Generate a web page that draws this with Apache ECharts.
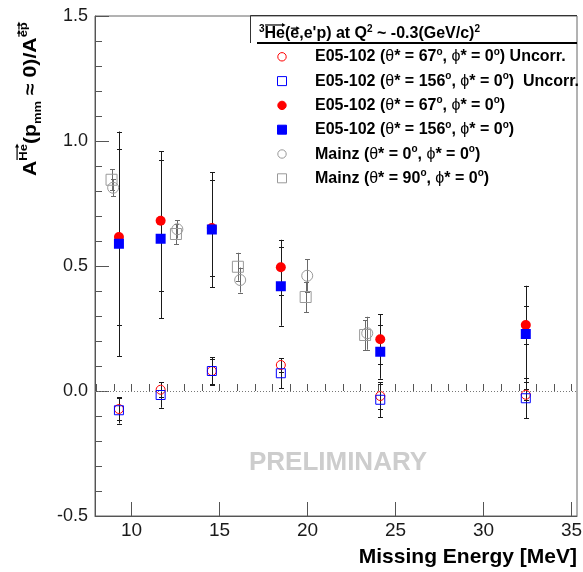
<!DOCTYPE html>
<html><head><meta charset="utf-8">
<script src="https://cdn.jsdelivr.net/npm/echarts@6/dist/echarts.min.js"></script>
<style>html,body{margin:0;padding:0;background:#fff}#c{width:583px;height:572px}</style>
</head><body><div id="c"></div>
<script>
// ---- data ----
const e05X            = [9.28, 11.65, 14.56, 18.48, 24.13, 32.40];
const e05Corr67       = [0.616, 0.681, 0.652, 0.495, 0.207, 0.264];
const e05Corr67Err    = [0.353, 0.279, 0.190, 0.110, 0.100, 0.075];
const e05Corr156      = [0.589, 0.609, 0.646, 0.419, 0.157, 0.228];
const e05Corr156Err   = [0.449, 0.317, 0.230, 0.158, 0.108, 0.193];
const e05Uncorr67     = [-0.072, 0.005, 0.080, 0.104, -0.020, -0.015];
const e05Uncorr67Err  = [0.045, 0.030, 0.050, 0.027, 0.050, 0.022];
const e05Uncorr156    = [-0.077, -0.016, 0.080, 0.071, -0.035, -0.029];
const e05Uncorr156Err = [0.053, 0.051, 0.055, 0.060, 0.070, 0.080];
const mainz0X   = [8.95, 12.60, 16.17, 19.98, 23.39];
const mainz0    = [0.813, 0.647, 0.444, 0.461, 0.231];
const mainz0Err = [0.034, 0.037, 0.050, 0.066, 0.066];
const mainz90X   = [8.86, 12.52, 16.04, 19.89, 23.27];
const mainz90    = [0.845, 0.628, 0.497, 0.376, 0.224];
const mainz90Err = [0.042, 0.040, 0.056, 0.061, 0.060];
const xMajorTicks = [10, 15, 20, 25, 30, 35];
const xMinorTicks = [8, 9, 10, 11, 12, 13, 14, 15, 16, 17, 18, 19, 20, 21, 22, 23, 24, 25, 26, 27, 28, 29, 30, 31, 32, 33, 34, 35];
const yTickLabels = ['-0.5', '0.0', '0.5', '1.0', '1.5'];

// ---- helpers ----
const FAM = "'Liberation Sans', Arial, Helvetica, sans-serif";
const mctx = document.createElement('canvas').getContext('2d');
function tw(t, font) { mctx.font = font; return mctx.measureText(t).width; }
function run(pieces, x0, base, color) {
  const els = []; let x = x0;
  pieces.forEach(p => {
    const font = (p.bold === false ? '' : 'bold ') + p.size + 'px ' + FAM;
    const w = tw(p.t, font);
    const b = base + (p.dy || 0);
    els.push({type: 'text', x: x, y: b - 0.35 * p.size,
      style: {text: p.t, font: font, fill: p.color || color || '#000',
        align: 'left', verticalAlign: 'middle', textAlign: 'left', textVerticalAlign: 'middle'}});
    if (p.arrow) {
      const ay = b - p.size * (p.arrowH || 0.72) - 3;
      const x1 = x + 0.5, x2 = x + w;
      els.push({type: 'line', shape: {x1: x1, y1: ay, x2: x2 - 1, y2: ay}, style: {stroke: '#000', lineWidth: 1.2}});
      els.push({type: 'polygon', shape: {points: [[x2 + 0.5, ay], [x2 - 3, ay - 2], [x2 - 3, ay + 2]]}, style: {fill: '#000'}});
    }
    x += w;
  });
  return els;
}

function errData(xs, ys, es) { return xs.map((x, i) => [x, ys[i], es[i]]); }
function ptData(xs, ys) { return xs.map((x, i) => [x, ys[i]]); }
function errSeries(data, color, width) {
  return {
    type: 'custom', coordinateSystem: 'cartesian2d', xAxisIndex: 0, yAxisIndex: 0, silent: true, z: 2,
    data: data,
    renderItem: function (params, api) {
      const x = api.value(0), y = api.value(1), e = api.value(2);
      const t = api.coord([x, y + e]), b = api.coord([x, y - e]);
      const cx = Math.round(t[0]) + 0.5;
      const st = {stroke: color, lineWidth: width};
      return {type: 'group', children: [
        {type: 'line', shape: {x1: cx, y1: t[1], x2: cx, y2: b[1]}, style: st},
        {type: 'line', shape: {x1: cx - 2.5, y1: Math.round(t[1]) + 0.5, x2: cx + 2.5, y2: Math.round(t[1]) + 0.5}, style: st},
        {type: 'line', shape: {x1: cx - 2.5, y1: Math.round(b[1]) + 0.5, x2: cx + 2.5, y2: Math.round(b[1]) + 0.5}, style: st}
      ]};
    }
  };
}
function ptSeries(name, data, symbol, size, fill, stroke, bw, z) {
  return {name: name, type: 'scatter', data: data, symbol: symbol, symbolSize: size, z: z,
    itemStyle: {color: fill, borderColor: stroke, borderWidth: bw, opacity: 1}, emphasis: {disabled: true}};
}

const RED = '#ff0000', BLUE = '#0000ff', GRAY = '#9a9a9a', EBAR = '#1a1a1a', MBAR = '#6a6a6a';

// ---- graphics: titles & legend ----
const gEls = [];
// y-axis title (rotated)
gEls.push({type: 'group', x: 37, y: 176, rotation: Math.PI / 2, scaleX: 1.18, scaleY: 1, children: run([
  {t: 'A', size: 18},
  {t: 'He', size: 11, dy: -9, arrow: true},
  {t: '(p', size: 18},
  {t: 'mm', size: 11, dy: 5},
  {t: ' \u2248 0)/A', size: 18},
  {t: 'e', size: 11, dy: -9, arrow: true, arrowH: 0.55},
  {t: 'p', size: 11, dy: -9, arrow: true, arrowH: 0.55}
], 0, 0)});
// x-axis title
gEls.push({type: 'text', x: 577, y: 565 - 0.35 * 21, style: {text: 'Missing Energy [MeV]', font: 'bold 21px ' + FAM, fill: '#000',
  align: 'right', verticalAlign: 'middle', textAlign: 'right', textVerticalAlign: 'middle'}});
// PRELIMINARY
gEls.push({type: 'text', x: 338, y: 463, style: {text: 'PRELIMINARY', font: 'bold 26px ' + FAM, fill: '#cdcdcd',
  align: 'center', verticalAlign: 'middle', textAlign: 'center', textVerticalAlign: 'middle'}});
// legend box lines
gEls.push({type: 'line', shape: {x1: 250.5, y1: 15.5, x2: 250.5, y2: 43}, style: {stroke: '#333', lineWidth: 1}});
gEls.push({type: 'line', shape: {x1: 250.5, y1: 15.5, x2: 577, y2: 15.5}, style: {stroke: '#333', lineWidth: 1}});
gEls.push({type: 'line', shape: {x1: 257, y1: 43, x2: 577, y2: 43}, style: {stroke: '#000', lineWidth: 2}});
// legend header
gEls.push({type: 'group', children: run([
  {t: '3', size: 10, dy: -7},
  {t: 'He', size: 16, arrow: true},
  {t: '(', size: 16},
  {t: 'e', size: 16, arrow: true, arrowH: 0.52},
  {t: ",e'p) at Q", size: 16},
  {t: '2', size: 10, dy: -7},
  {t: ' ~ -0.3(GeV/c)', size: 16},
  {t: '2', size: 10, dy: -7}
], 259, 39.5)});
// legend entries
const legendRows = [
  {pre: 'E05-102 (', th: '67', post: ') Uncorr.', sym: 'circle', fill: 'none', stroke: RED},
  {pre: 'E05-102 (', th: '156', post: ')  Uncorr.', sym: 'rect', fill: 'none', stroke: BLUE},
  {pre: 'E05-102 (', th: '67', post: ')', sym: 'circle', fill: RED, stroke: RED},
  {pre: 'E05-102 (', th: '156', post: ')', sym: 'rect', fill: BLUE, stroke: BLUE},
  {pre: 'Mainz (', th: '0', post: ')', sym: 'circle', fill: 'none', stroke: GRAY},
  {pre: 'Mainz (', th: '90', post: ')', sym: 'rect', fill: 'none', stroke: GRAY}
];
legendRows.forEach((r, i) => {
  const cy = 56.8 + 24.3 * i;
  if (r.sym === 'circle') {
    gEls.push({type: 'circle', shape: {cx: 282, cy: cy, r: 4.2}, style: {fill: r.fill, stroke: r.stroke, lineWidth: 1}});
  } else {
    gEls.push({type: 'rect', shape: {x: 277.5, y: cy - 4.5, width: 9, height: 9}, style: {fill: r.fill, stroke: r.stroke, lineWidth: 1}});
  }
  gEls.push({type: 'group', children: run([
    {t: r.pre, size: 16},
    {t: '\u03b8', size: 16, bold: false},
    {t: '* = ' + r.th, size: 16},
    {t: 'o', size: 10, dy: -7},
    {t: ', ', size: 16},
    {t: '\u03d5', size: 16, bold: false},
    {t: '* = 0', size: 16},
    {t: 'o', size: 10, dy: -7},
    {t: r.post, size: 16}
  ], 315, cy + 5.8)});
});

// ---- chart ----
const chart = echarts.init(document.getElementById('c'), null, {renderer: 'canvas'});
const axisGray = '#555';
const zeroLineSeries = ptSeries('zero', [], 'none', 0, 'none', 'none', 0, 1);
zeroLineSeries.markLine = {silent: true, symbol: 'none', label: {show: false}, animation: false,
  lineStyle: {type: [1, 2], color: '#777', width: 1}, data: [{yAxis: 0}]};

chart.setOption({
  animation: false,
  backgroundColor: '#fff',
  grid: {left: 95, right: 6, top: 16, bottom: 56, containLabel: false, outerBoundsMode: 'none',
    show: true, borderColor: '#666', borderWidth: 1, backgroundColor: 'transparent'},
  xAxis: [{
    type: 'value', min: 7.92, max: 35.31, position: 'bottom',
    axisLine: {show: true, onZero: false, lineStyle: {color: axisGray, width: 1}},
    axisTick: {show: true, inside: true, length: 14, customValues: xMajorTicks, lineStyle: {color: axisGray}},
    axisLabel: {show: true, customValues: xMajorTicks, margin: 5, color: '#1a1a1a', fontSize: 19, fontFamily: FAM},
    splitLine: {show: false}
  }, {
    type: 'value', min: 7.92, max: 35.31, position: 'bottom', gridIndex: 0,
    axisLine: {show: false},
    axisTick: {show: true, inside: true, length: 7, customValues: xMinorTicks, lineStyle: {color: axisGray}},
    axisLabel: {show: false}, splitLine: {show: false}
  }],
  yAxis: {
    type: 'value', min: -0.5, max: 1.5, interval: 0.5,
    axisLine: {show: true, onZero: false, lineStyle: {color: axisGray, width: 1}},
    axisTick: {show: true, inside: true, length: 14, lineStyle: {color: axisGray}},
    minorTick: {show: true, splitNumber: 5, length: 7, lineStyle: {color: axisGray}},
    axisLabel: {margin: 7, color: '#1a1a1a', fontSize: 18, fontFamily: FAM,
      formatter: v => yTickLabels[Math.round((v + 0.5) / 0.5)]},
    splitLine: {show: false}, minorSplitLine: {show: false}
  },
  series: [
    zeroLineSeries,
    errSeries(errData(mainz0X, mainz0, mainz0Err), MBAR, 1),
    errSeries(errData(mainz90X, mainz90, mainz90Err), MBAR, 1),
    errSeries(errData(e05X, e05Uncorr67, e05Uncorr67Err), EBAR, 1),
    errSeries(errData(e05X, e05Uncorr156, e05Uncorr156Err), EBAR, 1),
    errSeries(errData(e05X, e05Corr67, e05Corr67Err), EBAR, 1),
    errSeries(errData(e05X, e05Corr156, e05Corr156Err), EBAR, 1),
    ptSeries('Mainz 0', ptData(mainz0X, mainz0), 'circle', 11, 'rgba(0,0,0,0)', GRAY, 1, 3),
    ptSeries('Mainz 90', ptData(mainz90X, mainz90), 'rect', 11, 'rgba(0,0,0,0)', GRAY, 1, 3),
    ptSeries('E05 67 uncorr', ptData(e05X, e05Uncorr67), 'circle', 9, 'rgba(0,0,0,0)', RED, 1, 4),
    ptSeries('E05 156 uncorr', ptData(e05X, e05Uncorr156), 'rect', 9, 'rgba(0,0,0,0)', BLUE, 1, 4),
    ptSeries('E05 67', ptData(e05X, e05Corr67), 'circle', 10, RED, RED, 0, 5),
    ptSeries('E05 156', ptData(e05X, e05Corr156), 'rect', 10, BLUE, BLUE, 0, 5)
  ],
  graphic: {elements: gEls}
});
</script>
</body></html>
